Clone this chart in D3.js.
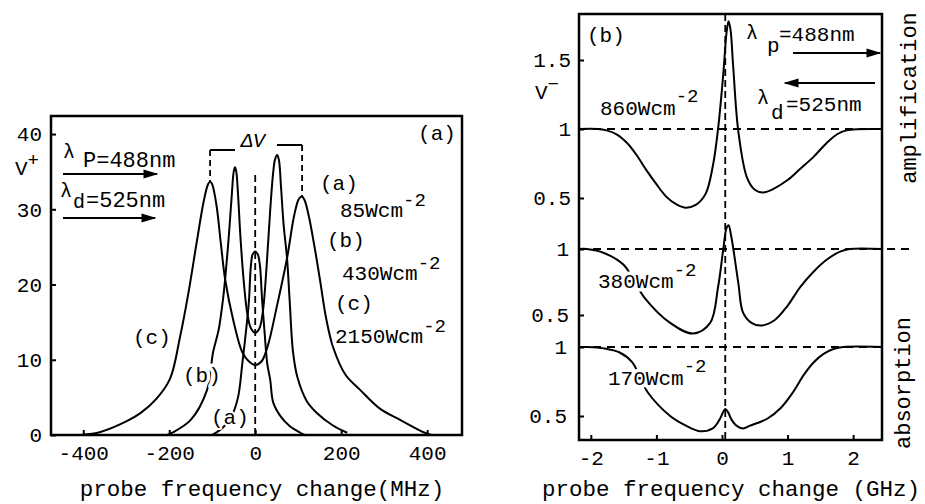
<!DOCTYPE html>
<html><head><meta charset="utf-8">
<script src="https://cdn.jsdelivr.net/npm/d3@7/dist/d3.min.js"></script>
<style>
body{margin:0;background:#fff}
svg{display:block}
text{font-family:"Liberation Mono","DejaVu Sans Mono",monospace;fill:#000}
</style>
</head><body>
<svg id="c" width="925" height="504"></svg>
<script>
// ---------------- DATA ----------------
// Left panel (a): V+ vs probe frequency change (MHz)
const leftXTicks = [-400, -200, 0, 200, 400];
const leftYTicks = [0, 10, 20, 30, 40];
const curveA_x = [-100, -75, -55, -40, -30, -22, -15, -10, -6, 0, 6, 11, 16, 22, 28, 35, 42, 60, 80, 105, 115];
const curveA_y = [0, 1, 2.5, 5, 9.5, 13.5, 17.5, 22.5, 24, 24.4, 24, 22.5, 18, 13.5, 9.5, 7.3, 4.3, 2.4, 1.2, 0.3, 0];
const curveB_x = [-205, -193, -150, -112, -98, -85, -75, -70, -62, -55, -50, -47, -44, -40, -34, -26, -18, -10, 0, 10, 18, 26, 35, 42, 46, 51, 55, 60, 66, 74, 80, 88, 98, 120, 144, 180, 214];
const curveB_y = [0, 0.3, 2, 6, 11, 14, 18, 20.7, 26, 31.5, 35, 35.6, 35, 32, 26, 20, 16, 14.2, 13.6, 14.2, 16.5, 22, 30, 35, 36.6, 37.2, 36.6, 33, 28, 23.5, 18, 11, 7.7, 4.5, 2.9, 1.3, 0.3];
const curveC_x = [-405, -360, -300, -267, -230, -198, -175, -155, -135, -120, -110, -105, -100, -90, -80, -70, -50, -30, -15, 0, 15, 30, 50, 74, 90, 100, 105, 109, 115, 125, 138, 151, 165, 181, 210, 244, 290, 337, 390, 410];
const curveC_y = [0, 0.4, 1.8, 2.9, 4.8, 7.5, 13, 19, 26, 31, 33.3, 33.7, 33.3, 30.5, 25.5, 20.7, 15, 11, 9.8, 9.3, 9.8, 12, 17, 23.5, 29, 31.2, 31.6, 31.7, 31.2, 29, 25, 20.5, 15.5, 11.7, 8, 6, 3.5, 2, 0.4, 0];
const deltaNuLeft = -105, deltaNuRight = 109;

// Right panel (b): V- vs probe frequency change (GHz)
const rightXTicks = [-2, -1, 0, 1, 2];
const topYTicks = [0.5, 1, 1.5];
const midYTicks = [0.5, 1];
const botYTicks = [0.5, 1];
const top_x = [-2.18, -1.9, -1.76, -1.6, -1.45, -1.3, -1.15, -1.0, -0.85, -0.7, -0.56, -0.4, -0.25, -0.14, -0.06, 0.02, 0.07, 0.1, 0.13, 0.17, 0.25, 0.38, 0.5, 0.63, 0.8, 1.0, 1.19, 1.4, 1.6, 1.75, 1.9, 2.44];
const top_y = [1, 1, 0.99, 0.96, 0.9, 0.81, 0.7, 0.6, 0.51, 0.455, 0.43, 0.45, 0.53, 0.73, 1.0, 1.4, 1.7, 1.78, 1.72, 1.46, 0.98, 0.65, 0.56, 0.54, 0.57, 0.63, 0.71, 0.8, 0.9, 0.96, 0.99, 1];
const mid_x = [-2.18, -2.06, -1.8, -1.5, -1.18, -0.79, -0.44, -0.18, -0.06, 0.02, 0.07, 0.1, 0.14, 0.25, 0.32, 0.45, 0.6, 0.8, 1.0, 1.19, 1.4, 1.6, 1.8, 1.95, 2.44];
const mid_y = [1, 1, 0.97, 0.88, 0.63, 0.44, 0.36, 0.44, 0.71, 1.0, 1.16, 1.18, 1.1, 0.74, 0.52, 0.44, 0.42, 0.46, 0.57, 0.71, 0.83, 0.92, 0.98, 1, 1];
const bot_x = [-2.18, -2.06, -1.8, -1.56, -1.37, -1.13, -0.79, -0.55, -0.34, -0.14, -0.03, 0.02, 0.05, 0.09, 0.15, 0.22, 0.32, 0.43, 0.69, 0.9, 1.08, 1.25, 1.4, 1.55, 1.7, 1.85, 2.44];
const bot_y = [1, 1, 0.99, 0.96, 0.89, 0.67, 0.5, 0.43, 0.39, 0.41, 0.48, 0.53, 0.55, 0.53, 0.47, 0.43, 0.41, 0.43, 0.48, 0.56, 0.67, 0.8, 0.89, 0.95, 0.985, 1, 1];
const pumpLine = 0.05;

// ---------------- DRAW ----------------
const svg = d3.select("#c");
const zip = (xs, ys) => xs.map((x, i) => [x, ys[i]]);
const smooth = d3.curveCatmullRom.alpha(0.5);

const defs = svg.append("defs");
defs.append("marker").attr("id", "ah").attr("viewBox", "0 0 10 8")
  .attr("refX", 9).attr("refY", 4).attr("markerWidth", 9).attr("markerHeight", 6)
  .attr("orient", "auto-start-reverse")
  .append("path").attr("d", "M0,1 L10,4 L0,7 z").attr("fill", "#000");

function label(x, y, txt, size, opts = {}) {
  const t = svg.append("text").attr("x", x).attr("y", y)
    .style("font-size", size + "px").attr("text-anchor", opts.anchor || "start");
  if (opts.halo) t.attr("stroke", "#fff").attr("stroke-width", opts.halo === true ? 7 : opts.halo).attr("paint-order", "stroke").attr("stroke-linejoin", "round");
  t.text(txt);
  return t;
}
function withSup(x, y, base, sup, size, opts = {}) {
  const t = svg.append("text").attr("x", x).attr("y", y)
    .style("font-size", size + "px").attr("text-anchor", opts.anchor || "start");
  if (opts.halo) t.attr("stroke", "#fff").attr("stroke-width", 7).attr("paint-order", "stroke").attr("stroke-linejoin", "round");
  t.append("tspan").text(base);
  t.append("tspan").attr("dy", opts.supDy || -11).style("font-size", (opts.supSize || 19) + "px").text(sup);
  return t;
}

// ===== LEFT PANEL =====
const L = { x0: 51, x1: 462, y0: 435, y1: 116 };
const xL = d3.scaleLinear().domain([-475, 481]).range([L.x0, L.x1]);
const yL = d3.scaleLinear().domain([0, 42.4]).range([L.y0, L.y1]);
const lineL = d3.line().x(d => xL(d[0])).y(d => yL(d[1])).curve(smooth);

// dashed center line and delta-nu markers
svg.append("line").attr("x1", xL(0)).attr("x2", xL(0)).attr("y1", 175).attr("y2", L.y0)
  .attr("stroke", "#000").attr("stroke-width", 1.8).attr("stroke-dasharray", "7,4");
const cPeakL = d3.max(curveC_y.filter((v, i) => curveC_x[i] < 0));
const cPeakR = d3.max(curveC_y.filter((v, i) => curveC_x[i] > 0));
svg.append("line").attr("x1", xL(deltaNuLeft)).attr("x2", xL(deltaNuLeft)).attr("y1", 150).attr("y2", yL(cPeakL))
  .attr("stroke", "#000").attr("stroke-width", 1.8).attr("stroke-dasharray", "6,4");
svg.append("line").attr("x1", xL(deltaNuRight)).attr("x2", xL(deltaNuRight)).attr("y1", 145).attr("y2", yL(cPeakR))
  .attr("stroke", "#000").attr("stroke-width", 1.8).attr("stroke-dasharray", "6,4");
svg.append("line").attr("x1", xL(deltaNuLeft)).attr("x2", 235).attr("y1", 150).attr("y2", 150).attr("stroke", "#000").attr("stroke-width", 2);
svg.append("line").attr("x1", 277).attr("x2", xL(deltaNuRight)).attr("y1", 145).attr("y2", 145).attr("stroke", "#000").attr("stroke-width", 2);
label(253, 147, "ΔV", 20, { anchor: "middle" }).style("font-style", "italic");

[[curveA_x, curveA_y], [curveB_x, curveB_y], [curveC_x, curveC_y]].forEach(([xs, ys]) => {
  svg.append("path").datum(zip(xs, ys)).attr("d", lineL)
    .attr("fill", "none").attr("stroke", "#000").attr("stroke-width", 2);
});

// frame
svg.append("rect").attr("x", L.x0).attr("y", L.y1).attr("width", L.x1 - L.x0).attr("height", L.y0 - L.y1)
  .attr("fill", "none").attr("stroke", "#000").attr("stroke-width", 2.5);

const axL = svg.append("g").attr("transform", `translate(0,${L.y0})`)
  .call(d3.axisBottom(xL).tickValues(leftXTicks).tickSizeInner(-5).tickSizeOuter(0).tickPadding(10).tickFormat(d => String(d)));
const ayL = svg.append("g").attr("transform", `translate(${L.x0},0)`)
  .call(d3.axisLeft(yL).tickValues(leftYTicks).tickSizeInner(-5).tickSizeOuter(0).tickPadding(9).tickFormat(d => String(d)));
[axL, ayL].forEach(g => {
  g.select(".domain").remove();
  g.selectAll(".tick line").attr("stroke", "#000").attr("stroke-width", 2);
  g.selectAll("text").attr("font-family", null).style("font-size", "21px").attr("fill", "#000");
});
withSup(15, 175, "V", "+", 21, { supDy: -9 });

// panel labels
label(437, 140, "(a)", 21, { anchor: "middle" });
label(320, 190, "(a)", 21, { halo: true });
withSup(340, 217, "85Wcm", "-2", 21, { halo: true });
label(327, 247, "(b)", 21, { halo: true });
withSup(342, 280, "430Wcm", "-2", 21, { halo: true });
label(335, 310, "(c)", 21, { halo: true });
withSup(335, 343, "2150Wcm", "-2", 21, { halo: true });
label(133, 344, "(c)", 21, { halo: true });
label(183, 382, "(b)", 21, { halo: true });
label(211, 424, "(a)", 21, { halo: 4 });

// wavelength annotations (left)
label(63, 158, "λ", 20);
label(83, 167, "P=488nm", 22);
svg.append("line").attr("x1", 63).attr("x2", 157).attr("y1", 174).attr("y2", 174)
  .attr("stroke", "#000").attr("stroke-width", 2).attr("marker-end", "url(#ah)");
label(60, 197, "λ", 20);
label(73, 208, "d", 20);
label(86, 207, "=525nm", 22);
svg.append("line").attr("x1", 63).attr("x2", 155).attr("y1", 218).attr("y2", 218)
  .attr("stroke", "#000").attr("stroke-width", 2).attr("marker-end", "url(#ah)");

label(262, 496, "probe frequency change(MHz)", 22.5, { anchor: "middle" });

// ===== RIGHT PANEL =====
const R = { x0: 579, x1: 882, y0: 440, y1: 14 };
const xR = d3.scaleLinear().domain([-2.18, 2.44]).range([R.x0, R.x1]);
const yTop = d3.scaleLinear().domain([0.5, 1.5]).range([198, 60]);
const yMid = d3.scaleLinear().domain([0.5, 1]).range([315, 249]);
const yBot = d3.scaleLinear().domain([0.5, 1]).range([416, 347]);

// reference dashed lines
svg.append("line").attr("x1", R.x0).attr("x2", R.x1).attr("y1", yTop(1)).attr("y2", yTop(1))
  .attr("stroke", "#000").attr("stroke-width", 1.8).attr("stroke-dasharray", "8,6");
svg.append("line").attr("x1", R.x0).attr("x2", 915).attr("y1", yMid(1)).attr("y2", yMid(1))
  .attr("stroke", "#000").attr("stroke-width", 1.8).attr("stroke-dasharray", "8,6");
svg.append("line").attr("x1", R.x0).attr("x2", R.x1).attr("y1", yBot(1)).attr("y2", yBot(1))
  .attr("stroke", "#000").attr("stroke-width", 1.8).attr("stroke-dasharray", "8,6");
svg.append("line").attr("x1", xR(pumpLine)).attr("x2", xR(pumpLine)).attr("y1", R.y1).attr("y2", R.y0)
  .attr("stroke", "#000").attr("stroke-width", 1.8).attr("stroke-dasharray", "7,4");

[[top_x, top_y, yTop], [mid_x, mid_y, yMid], [bot_x, bot_y, yBot]].forEach(([xs, ys, ys_]) => {
  const ln = d3.line().x(d => xR(d[0])).y(d => ys_(d[1])).curve(smooth);
  svg.append("path").datum(zip(xs, ys)).attr("d", ln)
    .attr("fill", "none").attr("stroke", "#000").attr("stroke-width", 2);
});

svg.append("rect").attr("x", R.x0).attr("y", R.y1).attr("width", R.x1 - R.x0).attr("height", R.y0 - R.y1)
  .attr("fill", "none").attr("stroke", "#000").attr("stroke-width", 2.5);

const axR = svg.append("g").attr("transform", `translate(0,${R.y0})`)
  .call(d3.axisBottom(xR).tickValues(rightXTicks).tickSizeInner(-5).tickSizeOuter(0).tickPadding(10).tickFormat(d => String(d)));
const ayT = svg.append("g").attr("transform", `translate(${R.x0},0)`)
  .call(d3.axisLeft(yTop).tickValues(topYTicks).tickSizeInner(-5).tickSizeOuter(0).tickPadding(8).tickFormat(d => String(d)));
const ayM = svg.append("g").attr("transform", `translate(${R.x0},0)`)
  .call(d3.axisLeft(yMid).tickValues(midYTicks).tickSizeInner(-5).tickSizeOuter(0).tickPadding(10).tickFormat(d => String(d)));
const ayB = svg.append("g").attr("transform", `translate(${R.x0},0)`)
  .call(d3.axisLeft(yBot).tickValues(botYTicks).tickSizeInner(-5).tickSizeOuter(0).tickPadding(12).tickFormat(d => String(d)));
[axR, ayT, ayM, ayB].forEach(g => {
  g.select(".domain").remove();
  g.selectAll(".tick line").attr("stroke", "#000").attr("stroke-width", 2);
  g.selectAll("text").attr("font-family", null).style("font-size", "21px").attr("fill", "#000");
});
withSup(535, 99, "V", "−", 21, { supDy: -9 });

label(587, 42, "(b)", 21);
label(746, 39, "λ", 20);
label(767, 52, "p", 21);
label(779, 41, "=488nm", 21);
svg.append("line").attr("x1", 793).attr("x2", 880).attr("y1", 53).attr("y2", 53)
  .attr("stroke", "#000").attr("stroke-width", 2).attr("marker-end", "url(#ah)");
svg.append("line").attr("x1", 785).attr("x2", 875).attr("y1", 83).attr("y2", 83)
  .attr("stroke", "#000").attr("stroke-width", 2).attr("marker-start", "url(#ah)");
label(757, 104, "λ", 20);
label(771, 119, "d", 21);
label(786, 111, "=525nm", 21);

withSup(600, 115, "860Wcm", "-2", 21, { halo: true, supDy: -13 });
withSup(598, 288, "380Wcm", "-2", 21, { halo: true, supDy: -12 });
withSup(608, 385, "170Wcm", "-2", 21, { halo: true, supDy: -13 });

svg.append("text").attr("transform", "translate(916,98) rotate(-90)").attr("text-anchor", "middle")
  .style("font-size", "22px").text("amplification");
svg.append("text").attr("transform", "translate(910,383) rotate(-90)").attr("text-anchor", "middle")
  .style("font-size", "22px").text("absorption");

label(731, 496, "probe frequency change (GHz)", 22.5, { anchor: "middle" });
</script>
</body></html>
